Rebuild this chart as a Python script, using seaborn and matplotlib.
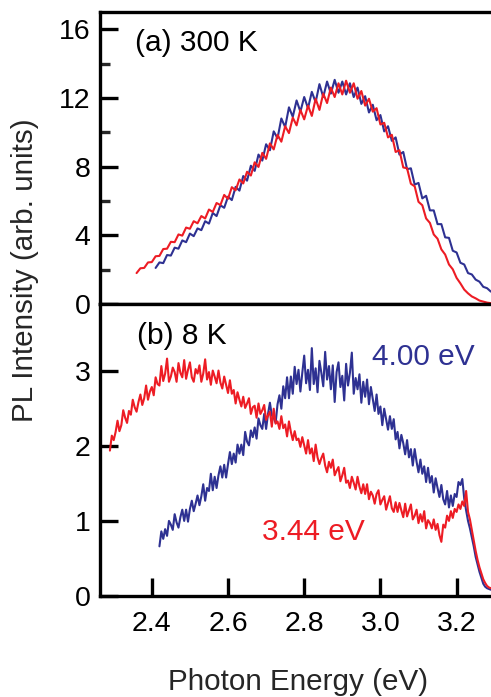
import numpy as np
import pandas as pd
import matplotlib
matplotlib.use("Agg")
import matplotlib.pyplot as plt
from matplotlib.ticker import MultipleLocator
import seaborn as sns

# ---- PL spectra (intensity in arb. units) ----
# (a) 300 K, 0.01 eV steps
e_a_red = (2.36, 3.29)
pl_a_red = [
    1.80, 2.08, 2.10, 2.42, 2.44, 2.78, 2.80, 3.20, 3.22, 3.62,
    3.60, 4.05, 3.98, 4.45, 4.38, 4.82, 4.70, 5.12, 4.98, 5.50,
    5.36, 5.88, 5.76, 6.35, 6.12, 6.80, 6.62, 7.25, 7.02, 7.70,
    7.48, 8.25, 7.98, 8.80, 8.45, 9.35, 9.00, 9.85, 9.45, 10.35,
    9.95, 10.85, 10.40, 11.30, 10.75, 11.55, 10.95, 11.95, 11.30, 12.25,
    11.70, 12.60, 12.05, 12.85, 12.20, 13.00, 12.30, 12.85, 11.95, 12.40,
    11.55, 11.95, 11.20, 11.40, 10.45, 10.55, 9.70, 9.85, 8.85, 8.95,
    7.95, 7.90, 7.00, 6.85, 5.95, 5.75, 4.98, 4.72, 4.05, 3.80,
    3.18, 2.88, 2.30, 2.02, 1.52, 1.20, 0.84, 0.62, 0.44, 0.33,
    0.20, 0.14, 0.08, 0.05,
]
e_a_blue = (2.41, 3.29)
pl_a_blue = [
    2.10, 2.42, 2.38, 2.85, 2.82, 3.28, 3.22, 3.70, 3.60, 4.10,
    3.95, 4.40, 4.30, 4.82, 4.68, 5.30, 5.12, 5.75, 5.60, 6.25,
    6.05, 6.82, 6.60, 7.45, 7.18, 8.05, 7.75, 8.70, 8.35, 9.30,
    8.95, 10.05, 9.65, 10.80, 10.30, 11.45, 10.90, 11.85, 11.20, 12.05,
    11.40, 12.35, 11.75, 12.80, 12.05, 12.95, 12.25, 13.05, 12.30, 12.95,
    12.20, 12.85, 12.05, 12.60, 11.65, 12.10, 11.15, 11.60, 10.70, 11.00,
    10.05, 10.35, 9.50, 9.70, 8.70, 8.85, 7.85, 7.90, 6.95, 7.05,
    6.15, 6.30, 5.45, 5.45, 4.65, 4.65, 3.88, 3.85, 3.10, 3.00,
    2.40, 2.30, 1.80, 1.72, 1.42, 1.30, 1.00, 0.92, 0.72,
]

# (b) 8 K, 0.005 eV steps; excitation 3.44 eV (red) and 4.00 eV (blue)
e_b_red = (2.29, 3.29)
pl_b_red = [
    1.94, 2.14, 2.08, 2.19, 2.34, 2.20, 2.28, 2.48, 2.38, 2.31,
    2.47, 2.42, 2.62, 2.52, 2.46, 2.59, 2.69, 2.55, 2.64, 2.81,
    2.62, 2.73, 2.79, 2.68, 2.92, 2.83, 2.81, 3.07, 2.87, 2.97,
    3.17, 2.86, 2.93, 3.05, 2.99, 2.86, 3.11, 2.98, 2.92, 3.15,
    2.90, 3.02, 3.12, 2.92, 2.86, 3.03, 2.97, 3.08, 2.86, 2.97,
    3.16, 2.89, 2.99, 2.82, 3.01, 2.93, 2.84, 3.01, 2.85, 2.77,
    2.93, 2.82, 2.71, 2.88, 2.70, 2.75, 2.57, 2.72, 2.62, 2.53,
    2.66, 2.51, 2.57, 2.64, 2.43, 2.52, 2.54, 2.38, 2.57, 2.43,
    2.48, 2.55, 2.35, 2.41, 2.46, 2.26, 2.50, 2.30, 2.33, 2.23,
    2.40, 2.24, 2.29, 2.13, 2.33, 2.19, 2.08, 2.20, 2.08, 2.10,
    1.99, 2.12, 2.01, 1.90, 2.08, 1.90, 1.97, 1.80, 2.02, 1.85,
    1.76, 1.84, 1.90, 1.74, 1.65, 1.79, 1.71, 1.82, 1.61, 1.67,
    1.72, 1.53, 1.61, 1.71, 1.51, 1.54, 1.44, 1.59, 1.51, 1.42,
    1.59, 1.46, 1.37, 1.49, 1.36, 1.49, 1.29, 1.39, 1.34, 1.23,
    1.36, 1.41, 1.22, 1.28, 1.33, 1.15, 1.24, 1.33, 1.17, 1.12,
    1.25, 1.12, 1.24, 1.14, 1.05, 1.23, 1.06, 1.14, 1.22, 1.02,
    1.07, 1.15, 0.97, 1.09, 0.99, 1.13, 0.90, 1.01, 0.97, 0.90,
    1.02, 0.88, 0.96, 0.81, 0.72, 0.95, 0.91, 1.07, 1.00, 1.13,
    1.04, 1.16, 1.12, 1.22, 1.16, 1.26, 1.20, 1.40, 1.12, 1.02,
    0.88, 0.74, 0.60, 0.48, 0.38, 0.30, 0.22, 0.17, 0.13, 0.11,
    0.10,
]
e_b_blue = (2.42, 3.29)
pl_b_blue = [
    0.66, 0.86, 0.76, 0.89, 0.80, 1.00, 0.95, 0.88, 1.09, 0.98,
    0.91, 1.05, 1.15, 1.00, 1.15, 0.99, 1.16, 1.27, 1.13, 1.23,
    1.34, 1.21, 1.33, 1.49, 1.27, 1.44, 1.40, 1.63, 1.41, 1.59,
    1.44, 1.61, 1.73, 1.58, 1.75, 1.58, 1.76, 1.92, 1.76, 1.90,
    1.78, 2.02, 1.90, 2.02, 1.88, 2.19, 2.06, 2.01, 2.21, 2.12,
    2.25, 2.10, 2.37, 2.28, 2.23, 2.43, 2.23, 2.43, 2.58, 2.41,
    2.38, 2.31, 2.56, 2.68, 2.50, 2.80, 2.64, 2.92, 2.64, 2.93,
    2.70, 3.06, 2.83, 3.02, 2.73, 2.98, 3.21, 2.84, 3.02, 2.75,
    3.31, 2.83, 3.04, 2.72, 3.14, 2.98, 2.80, 3.26, 2.89, 3.07,
    2.76, 3.08, 2.59, 2.99, 3.12, 2.79, 2.94, 2.61, 3.10, 2.81,
    2.98, 3.25, 2.70, 2.91, 2.76, 2.96, 2.58, 2.86, 2.66, 2.89,
    2.56, 2.79, 2.63, 2.47, 2.69, 2.43, 2.53, 2.28, 2.50, 2.36,
    2.22, 2.40, 2.23, 2.36, 2.09, 2.19, 1.97, 2.15, 2.04, 1.89,
    2.08, 1.85, 1.96, 1.74, 1.96, 1.79, 1.65, 1.82, 1.63, 1.73,
    1.52, 1.71, 1.51, 1.60, 1.38, 1.57, 1.44, 1.32, 1.48, 1.29,
    1.22, 1.40, 1.18, 1.34, 1.20, 1.36, 1.32, 1.52, 1.48, 1.56,
    1.30, 1.14, 1.00, 0.90, 0.78, 0.66, 0.52, 0.42, 0.32, 0.24,
    0.16, 0.12, 0.10, 0.09, 0.08,
]

x_ticks = [2.4, 2.6, 2.8, 3.0, 3.2]
y_ticks_a = [0, 4, 8, 12, 16]
y_ticks_b = [0, 1, 2, 3]

RED = "#ED1C24"
BLUE = "#2E3192"


def spectrum(rng, values):
    e = np.linspace(rng[0], rng[1], len(values))
    return pd.DataFrame({"E": e, "PL": values})


sns.set_theme(style="ticks")
plt.rcParams["font.family"] = ["Liberation Sans", "DejaVu Sans"]

W, H = 491, 697
fig = plt.figure(figsize=(W / 100, H / 100), dpi=100)

left = 100 / W
width = 398.5 / W
ax_a = fig.add_axes([left, 1 - 304 / H, width, 292 / H])
ax_b = fig.add_axes([left, 1 - 595.7 / H, width, 291.7 / H])

lw = 1.5
for ax, curves in (
    (ax_a, [(e_a_blue, pl_a_blue, BLUE), (e_a_red, pl_a_red, RED)]),
    (ax_b, [(e_b_blue, pl_b_blue, BLUE), (e_b_red, pl_b_red, RED)]),
):
    for rng, vals, col in curves:
        sns.lineplot(data=spectrum(rng, vals), x="E", y="PL", ax=ax,
                     color=col, lw=lw, estimator=None, sort=False)
    ax.set_xlim(2.264, 3.31)
    ax.set_xlabel("")
    ax.set_ylabel("")
    for s in ax.spines.values():
        s.set_linewidth(2.4)
        s.set_color("black")
    ax.tick_params(axis="both", direction="in", length=13, width=2.4,
                   colors="black", labelsize=20.5, top=False, right=False)
    ax.tick_params(axis="y", pad=7)

# (a) 300 K panel
ax_a.set_ylim(0, 17)
ax_a.set_yticks(y_ticks_a)
ax_a.yaxis.set_minor_locator(MultipleLocator(2))
ax_a.tick_params(axis="y", which="minor", direction="in", length=7, width=2.4)
ax_a.tick_params(axis="x", bottom=False, labelbottom=False)
ax_a.text(2.356, 14.74, "(a) 300 K", fontsize=21.5, color="black",
          ha="left", va="baseline")

# (b) 8 K panel
ax_b.set_ylim(0, 3.9)
ax_b.set_yticks(y_ticks_b)
ax_b.set_xticks(x_ticks)
ax_b.set_xticklabels([f"{t:.1f}" for t in x_ticks])
ax_b.tick_params(axis="x", pad=11)
ax_b.text(2.36, 3.37, "(b) 8 K", fontsize=21.5, color="black",
          ha="left", va="baseline")
ax_b.text(2.978, 3.08, "4.00 eV", fontsize=21.5, color=BLUE,
          ha="left", va="baseline")
ax_b.text(2.69, 0.744, "3.44 eV", fontsize=21.5, color=RED,
          ha="left", va="baseline")

fig.text(25 / W, 1 - 270 / H, "PL Intensity (arb. units)", rotation=90,
         fontsize=21.3, ha="center", va="center")
fig.text(298 / W, 1 - 690 / H, "Photon Energy (eV)", fontsize=21.3,
         ha="center", va="baseline")

fig.savefig("out.png", dpi=100)
